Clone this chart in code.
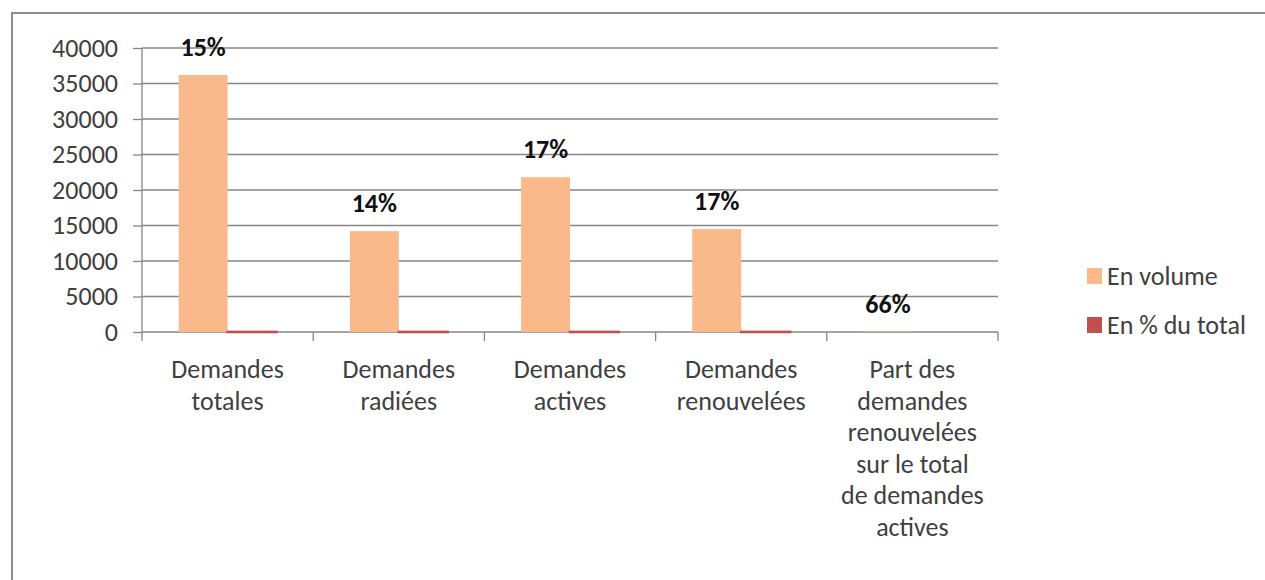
<!DOCTYPE html>
<html>
<head>
<meta charset="utf-8">
<script src="https://cdn.jsdelivr.net/npm/d3@7"></script>
<style>
  html, body { margin: 0; padding: 0; background: #fff; }
  svg { display: block; font-family: Calibri, Carlito, Lato, sans-serif; }
</style>
</head>
<body>
<div id="main-frame"></div>
<script>
// Chart data
const categories = [
  "Demandes totales",
  "Demandes radiées",
  "Demandes actives",
  "Demandes renouvelées",
  "Part des demandes renouvelées sur le total de demandes actives",
];
// Category labels as they wrap in the picture
const categoryLines = [
  ["Demandes", "totales"],
  ["Demandes", "radiées"],
  ["Demandes", "actives"],
  ["Demandes", "renouvelées"],
  ["Part des", "demandes", "renouvelées", "sur le total", "de demandes", "actives"],
];
const seriesNames = ["En volume", "En % du total"];
const volume = [36200, 14200, 21800, 14500, 66];
const pctTotal = [15, 14, 17, 17, 0];
const barLabels = ["15%", "14%", "17%", "17%", "66%"];
const yTicks = [0, 5000, 10000, 15000, 20000, 25000, 30000, 35000, 40000];

const colors = { "En volume": "#f9b98a", "En % du total": "#c0504d" };

const width = 1265;
const height = 580;
const margin = { top: 48, right: 267, bottom: 248, left: 142 };
const fontSize = "26px";

const svg = d3
  .select("#main-frame")
  .append("svg")
  .attr("width", width)
  .attr("height", height);

// chart frame (cropped on the right and bottom)
svg
  .append("rect")
  .attr("x", 12)
  .attr("y", 13)
  .attr("width", width + 20)
  .attr("height", height + 20)
  .attr("fill", "#fff")
  .attr("stroke", "#8c8c8c")
  .attr("stroke-width", 2);

const xScale = d3
  .scaleBand()
  .domain(categories)
  .range([margin.left, width - margin.right])
  .padding(0);

const xInner = d3
  .scaleBand()
  .domain(seriesNames)
  .range([0, xScale.bandwidth()])
  .paddingInner(0)
  .paddingOuter(0.75);

const yScale = d3
  .scaleLinear()
  .domain([0, 40000])
  .range([height - margin.bottom, margin.top]);

const x0 = margin.left;
const x1 = width - margin.right;

// gridlines
svg
  .append("g")
  .selectAll("line")
  .data(yTicks)
  .enter()
  .append("line")
  .attr("x1", x0)
  .attr("x2", x1)
  .attr("y1", (d) => yScale(d))
  .attr("y2", (d) => yScale(d))
  .attr("stroke", "#868686")
  .attr("stroke-width", 1.3);

// y axis
const yAxis = d3
  .axisLeft(yScale)
  .tickValues(yTicks)
  .tickSize(9)
  .tickPadding(15)
  .tickFormat(d3.format("d"));

const yG = svg
  .append("g")
  .attr("transform", `translate(${x0}, 0)`)
  .call(yAxis);
yG.select(".domain").remove();
yG.selectAll("line").attr("stroke", "#868686").attr("stroke-width", 1.3);
yG.selectAll("text")
  .attr("fill", "#404040")
  .style("font-size", fontSize)
  .style("font-family", "Calibri, Carlito, Lato, sans-serif");

svg
  .append("line")
  .attr("x1", x0)
  .attr("x2", x0)
  .attr("y1", yScale(40000))
  .attr("y2", yScale(0) + 9)
  .attr("stroke", "#868686")
  .attr("stroke-width", 1.3);

// x boundary ticks
const bounds = categories.map((c) => xScale(c)).concat([x1]);
svg
  .append("g")
  .selectAll("line")
  .data(bounds.slice(1))
  .enter()
  .append("line")
  .attr("x1", (d) => d)
  .attr("x2", (d) => d)
  .attr("y1", yScale(0))
  .attr("y2", yScale(0) + 9)
  .attr("stroke", "#868686")
  .attr("stroke-width", 1.3);

// bars
const rows = categories.map((c, i) => ({
  cat: c,
  values: [
    { key: "En volume", value: volume[i] },
    { key: "En % du total", value: pctTotal[i] },
  ],
}));

const groups = svg
  .append("g")
  .selectAll("g")
  .data(rows)
  .enter()
  .append("g")
  .attr("transform", (d) => `translate(${xScale(d.cat)}, 0)`);

groups
  .selectAll("rect")
  .data((d) => d.values.filter((v) => v.value > 0))
  .enter()
  .append("rect")
  .attr("x", (d) => xInner(d.key))
  .attr("y", (d) => yScale(d.value))
  .attr("width", xInner.bandwidth())
  .attr("height", (d) => yScale(0) - yScale(d.value))
  .attr("fill", (d) => colors[d.key])
  .attr("stroke", (d) => (d.key === "En % du total" ? colors[d.key] : "none"))
  .attr("stroke-width", 2.5);

// percentage labels above the volume bars
svg
  .append("g")
  .selectAll("text")
  .data(rows)
  .enter()
  .append("text")
  .attr("x", (d) => xScale(d.cat) + xInner("En volume") + xInner.bandwidth() / 2)
  .attr("y", (d) => yScale(d.values[0].value) - 19)
  .attr("text-anchor", "middle")
  .attr("fill", "#111")
  .style("font-size", fontSize)
  .style("font-weight", "bold")
  .text((d, i) => barLabels[i]);

// category labels
const catText = svg
  .append("g")
  .selectAll("text")
  .data(categories)
  .enter()
  .append("text")
  .attr("x", (d) => xScale(d) + xScale.bandwidth() / 2)
  .attr("y", 378)
  .attr("text-anchor", "middle")
  .attr("fill", "#404040")
  .style("font-size", fontSize);

catText
  .selectAll("tspan")
  .data((d, i) => categoryLines[i])
  .enter()
  .append("tspan")
  .attr("x", function () {
    return this.parentNode.getAttribute("x");
  })
  .attr("dy", (d, i) => (i === 0 ? 0 : 31.5))
  .text((d) => d);

// legend
const legend = svg
  .append("g")
  .attr("transform", "translate(1087, 268)");

legend
  .selectAll("rect")
  .data(seriesNames)
  .enter()
  .append("rect")
  .attr("x", 0)
  .attr("y", (d, i) => i * 49)
  .attr("width", 15)
  .attr("height", 16)
  .attr("fill", (d) => colors[d]);

legend
  .selectAll("text")
  .data(seriesNames)
  .enter()
  .append("text")
  .attr("x", 20)
  .attr("y", (d, i) => i * 49 + 17)
  .attr("fill", "#404040")
  .style("font-size", fontSize)
  .text((d) => d);
</script>
</body>
</html>
